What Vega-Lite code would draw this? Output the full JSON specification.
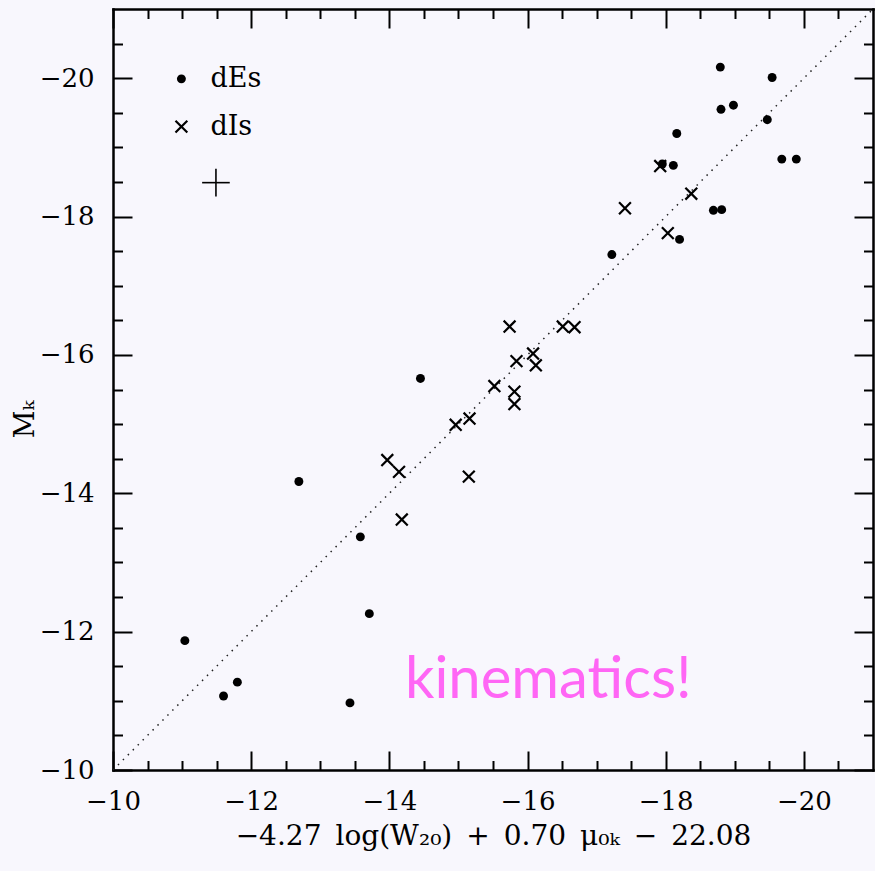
{
  "$schema": "https://vega.github.io/schema/vega-lite/v6.json",
  "width": 760,
  "height": 761,
  "autosize": {"type": "none"},
  "padding": {"left": 113, "top": 9, "right": 2, "bottom": 101},
  "background": "#f8f7fd",
  "config": {
    "view": {"stroke": null},
    "axis": {
      "grid": false,
      "domainColor": "black",
      "domainWidth": 2.5,
      "domainCap": "square",
      "tickColor": "black",
      "tickWidth": 2,
      "labelFont": "DejaVu Serif",
      "labelFontSize": 26,
      "labelColor": "black",
      "labelFlush": false,
      "labelOverlap": false,
      "labelBound": false,
      "titleFont": "DejaVu Serif",
      "titleColor": "black",
      "titleFontWeight": "normal"
    }
  },
  "datasets": {
    "dEs": [
      {"tf": -18.79, "mk": -20.16},
      {"tf": -19.54, "mk": -20.01},
      {"tf": -18.80, "mk": -19.55},
      {"tf": -18.98, "mk": -19.61},
      {"tf": -19.47, "mk": -19.40},
      {"tf": -18.16, "mk": -19.20},
      {"tf": -17.95, "mk": -18.76},
      {"tf": -18.11, "mk": -18.74},
      {"tf": -19.68, "mk": -18.83},
      {"tf": -19.89, "mk": -18.83},
      {"tf": -18.69, "mk": -18.09},
      {"tf": -18.81, "mk": -18.10},
      {"tf": -18.20, "mk": -17.67},
      {"tf": -17.22, "mk": -17.45},
      {"tf": -14.45, "mk": -15.66},
      {"tf": -12.69, "mk": -14.17},
      {"tf": -13.58, "mk": -13.37},
      {"tf": -13.71, "mk": -12.26},
      {"tf": -11.04, "mk": -11.87},
      {"tf": -11.80, "mk": -11.27},
      {"tf": -11.60, "mk": -11.07},
      {"tf": -13.43, "mk": -10.97}
    ],
    "dIs": [
      {"tf": -15.74, "mk": -16.41},
      {"tf": -16.51, "mk": -16.41},
      {"tf": -16.68, "mk": -16.40},
      {"tf": -15.84, "mk": -15.91},
      {"tf": -16.08, "mk": -16.02},
      {"tf": -16.12, "mk": -15.85},
      {"tf": -15.52, "mk": -15.55},
      {"tf": -15.81, "mk": -15.47},
      {"tf": -15.81, "mk": -15.29},
      {"tf": -14.96, "mk": -14.99},
      {"tf": -15.16, "mk": -15.08},
      {"tf": -13.97, "mk": -14.48},
      {"tf": -14.14, "mk": -14.31},
      {"tf": -15.15, "mk": -14.24},
      {"tf": -14.18, "mk": -13.62},
      {"tf": -17.92, "mk": -18.73},
      {"tf": -18.37, "mk": -18.33},
      {"tf": -17.41, "mk": -18.12},
      {"tf": -18.03, "mk": -17.76}
    ],
    "oneToOne": [
      {"tf": -10, "mk": -10},
      {"tf": -21, "mk": -21}
    ],
    "key": [
      {"series": "dEs", "symX": -10.99, "textX": -11.41, "y": -19.99},
      {"series": "dIs", "symX": -10.99, "textX": -11.41, "y": -19.30}
    ],
    "typicalError": [
      {"xc": -11.49, "yc": -18.49, "xlo": -11.29, "xhi": -11.69, "ylo": -18.29, "yhi": -18.69}
    ],
    "note": [
      {"text": "kinematics!", "tf": -16.30, "mk": -11.04}
    ]
  },
  "layer": [
    {
      "data": {"name": "oneToOne"},
      "mark": {"type": "line", "stroke": "#222222", "strokeWidth": 1.5, "strokeDash": [1.5, 5.5]},
      "encoding": {
        "x": {
          "field": "tf", "type": "quantitative",
          "scale": {"domain": [-10, -21], "nice": false, "zero": false},
          "axis": {
            "orient": "bottom",
            "values": [-10, -12, -14, -16, -18, -20],
            "format": "d",
            "tickSize": -19,
            "labelPadding": 37,
            "domain": true,
            "title": "−4.27\u2002log(W₂₀)\u2002+\u20020.70\u2002μ₀ₖ\u2002−\u200222.08",
            "titleFontSize": 28,
            "titleBaseline": "alphabetic",
            "titleY": 74
          }
        },
        "y": {
          "field": "mk", "type": "quantitative",
          "scale": {"domain": [-10, -21], "nice": false, "zero": false},
          "axis": {
            "orient": "left",
            "values": [-10, -12, -14, -16, -18, -20],
            "format": "d",
            "tickSize": -19,
            "labelPadding": 38,
            "domain": true,
            "title": "Mₖ",
            "titleFontSize": 27,
            "titleAngle": -90,
            "titleAlign": "center",
            "titleBaseline": "alphabetic",
            "titleX": -80,
            "titleY": 410
          }
        }
      }
    },
    {
      "data": {"name": "dEs"},
      "mark": {"type": "point", "shape": "circle", "filled": true, "fill": "black", "size": 80, "opacity": 1},
      "encoding": {
        "x": {
          "field": "tf", "type": "quantitative",
          "scale": {"domain": [-10, -21], "nice": false, "zero": false},
          "axis": {
            "orient": "bottom",
            "values": [-10.5, -11, -11.5, -12.5, -13, -13.5, -14.5, -15, -15.5, -16.5, -17, -17.5, -18.5, -19, -19.5, -20.5],
            "tickSize": -9.5, "labels": false, "domain": false, "title": null
          }
        },
        "y": {
          "field": "mk", "type": "quantitative",
          "scale": {"domain": [-10, -21], "nice": false, "zero": false},
          "axis": {
            "orient": "left",
            "values": [-10.5, -11, -11.5, -12.5, -13, -13.5, -14.5, -15, -15.5, -16.5, -17, -17.5, -18.5, -19, -19.5, -20.5],
            "tickSize": -9.5, "labels": false, "domain": false, "title": null
          }
        }
      }
    },
    {
      "data": {"name": "dIs"},
      "mark": {"type": "point", "shape": "M-1,-1L1,1M-1,1L1,-1", "filled": false, "stroke": "black", "strokeWidth": 2.2, "size": 140, "opacity": 1},
      "encoding": {
        "x": {
          "field": "tf", "type": "quantitative",
          "scale": {"domain": [-10, -21], "nice": false, "zero": false},
          "axis": {
            "orient": "top",
            "values": [-10, -12, -14, -16, -18, -20],
            "tickSize": -19, "labels": false, "domain": true, "title": null
          }
        },
        "y": {
          "field": "mk", "type": "quantitative",
          "scale": {"domain": [-10, -21], "nice": false, "zero": false},
          "axis": {
            "orient": "right",
            "values": [-10, -12, -14, -16, -18, -20],
            "tickSize": -19, "labels": false, "domain": true, "title": null
          }
        }
      }
    },
    {
      "data": {"name": "key"},
      "transform": [{"filter": "datum.series === 'dEs'"}],
      "mark": {"type": "point", "shape": "circle", "filled": true, "fill": "black", "size": 80, "opacity": 1},
      "encoding": {
        "x": {
          "field": "symX", "type": "quantitative",
          "scale": {"domain": [-10, -21], "nice": false, "zero": false},
          "axis": {
            "orient": "top",
            "values": [-10.5, -11, -11.5, -12.5, -13, -13.5, -14.5, -15, -15.5, -16.5, -17, -17.5, -18.5, -19, -19.5, -20.5],
            "tickSize": -9.5, "labels": false, "domain": false, "title": null
          }
        },
        "y": {
          "field": "y", "type": "quantitative",
          "scale": {"domain": [-10, -21], "nice": false, "zero": false},
          "axis": {
            "orient": "right",
            "values": [-10.5, -11, -11.5, -12.5, -13, -13.5, -14.5, -15, -15.5, -16.5, -17, -17.5, -18.5, -19, -19.5, -20.5],
            "tickSize": -9.5, "labels": false, "domain": false, "title": null
          }
        }
      }
    },
    {
      "data": {"name": "key"},
      "transform": [{"filter": "datum.series === 'dIs'"}],
      "mark": {"type": "point", "shape": "M-1,-1L1,1M-1,1L1,-1", "filled": false, "stroke": "black", "strokeWidth": 2.2, "size": 140, "opacity": 1},
      "encoding": {
        "x": {"field": "symX", "type": "quantitative", "scale": {"domain": [-10, -21], "nice": false, "zero": false}, "axis": null},
        "y": {"field": "y", "type": "quantitative", "scale": {"domain": [-10, -21], "nice": false, "zero": false}, "axis": null}
      }
    },
    {
      "data": {"name": "key"},
      "mark": {"type": "text", "align": "left", "baseline": "middle", "font": "DejaVu Serif", "fontSize": 27, "color": "black"},
      "encoding": {
        "x": {"field": "textX", "type": "quantitative", "scale": {"domain": [-10, -21], "nice": false, "zero": false}, "axis": null},
        "y": {"field": "y", "type": "quantitative", "scale": {"domain": [-10, -21], "nice": false, "zero": false}, "axis": null},
        "text": {"field": "series"}
      }
    },
    {
      "data": {"name": "typicalError"},
      "mark": {"type": "rule", "stroke": "black", "strokeWidth": 1.6},
      "encoding": {
        "x": {"field": "xlo", "type": "quantitative", "scale": {"domain": [-10, -21], "nice": false, "zero": false}, "axis": null},
        "x2": {"field": "xhi"},
        "y": {"field": "yc", "type": "quantitative", "scale": {"domain": [-10, -21], "nice": false, "zero": false}, "axis": null}
      }
    },
    {
      "data": {"name": "typicalError"},
      "mark": {"type": "rule", "stroke": "black", "strokeWidth": 1.6},
      "encoding": {
        "x": {"field": "xc", "type": "quantitative", "scale": {"domain": [-10, -21], "nice": false, "zero": false}, "axis": null},
        "y": {"field": "ylo", "type": "quantitative", "scale": {"domain": [-10, -21], "nice": false, "zero": false}, "axis": null},
        "y2": {"field": "yhi"}
      }
    },
    {
      "data": {"name": "note"},
      "mark": {"type": "text", "align": "center", "baseline": "alphabetic", "font": "Lato", "fontSize": 58, "color": "#ff66f5"},
      "encoding": {
        "x": {"field": "tf", "type": "quantitative", "scale": {"domain": [-10, -21], "nice": false, "zero": false}, "axis": null},
        "y": {"field": "mk", "type": "quantitative", "scale": {"domain": [-10, -21], "nice": false, "zero": false}, "axis": null},
        "text": {"field": "text"}
      }
    }
  ],
  "resolve": {"axis": {"x": "independent", "y": "independent"}}
}
